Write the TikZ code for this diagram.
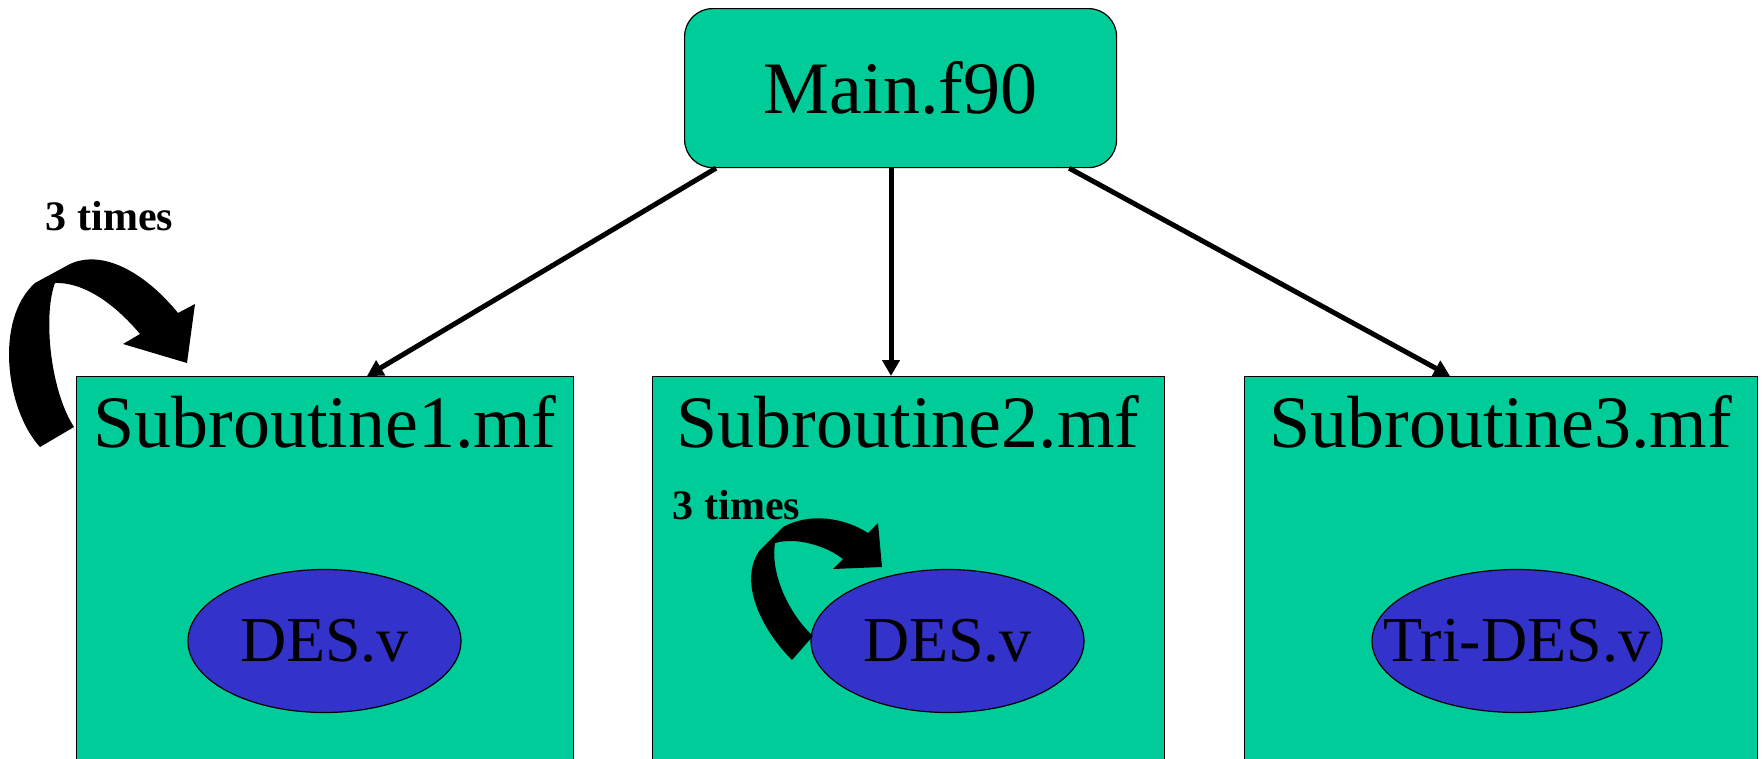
\documentclass[tikz,border=0pt]{standalone}
\usepackage{fontspec}
\setmainfont{Liberation Serif}
\usetikzlibrary{shapes.geometric,arrows.meta,calc}
\definecolor{boxgreen}{RGB}{0,204,153}
\definecolor{ellblue}{RGB}{51,51,204}
\tikzset{
  subbox/.style={draw=black, line width=1.2pt, fill=boxgreen, rectangle, minimum width=497pt, minimum height=420pt, anchor=north west, inner sep=0pt},
  mainbox/.style={draw=black, line width=1.2pt, fill=boxgreen, rectangle, rounded corners=28pt, minimum width=432pt, minimum height=159pt, anchor=north west, inner sep=0pt, font=\fontsize{74}{80}\selectfont},
  subtitle/.style={anchor=base, inner sep=0pt, font=\fontsize{74}{80}\selectfont},
  modell/.style={draw=black, line width=1.2pt, fill=ellblue, ellipse, inner sep=0pt, minimum height=143pt, font=\fontsize{64}{70}\selectfont},
  timeslabel/.style={anchor=base, inner sep=0pt, font=\fontsize{42}{46}\selectfont\bfseries},
  conn/.style={line width=5pt, -{Triangle[length=16pt,width=17pt]}},
  loop/.style={fill=black, draw=none}
}
\begin{document}
\begin{tikzpicture}[x=1pt,y=-1pt]
\useasboundingbox (0,0) rectangle (1762,758);
\clip (0,0) rectangle (1762,758);
% subroutine boxes
\node[subbox] (s1) at (76,376) {};
\node[subbox, minimum width=512pt] (s2) at (652,376) {};
\node[subbox, minimum width=513pt] (s3) at (1244,376) {};
\node[subtitle] (t1) at (324.5,447) {Subroutine1.mf};
\node[subtitle] (t2) at (908,447) {Subroutine2.mf};
\node[subtitle] (t3) at (1500.5,447) {Subroutine3.mf};
% ellipses
\node[modell, minimum width=273pt] (e1) at (324.5,641) {DES.v};
\node[modell, minimum width=273pt] (e2) at (947.5,641) {DES.v};
\node[modell, minimum width=290pt, inner xsep=-32pt] (e3) at (1517,641) {Tri-DES.v};
% main
\node[mainbox] (main) at (684,8) {Main.f90};
% connectors
\draw[conn] ($(main.south west)+(32,0)$) -- ($(s1.north west)+(291,0)$);
\draw[conn] ($(main.south west)+(207,0)$) -- ($(s2.north west)+(239,0)$);
\draw[conn] ($(main.south east)+(-48,0)$) -- ($(s3.north west)+(206,0)$);
% loop labels
\node[timeslabel] (l1) at (109.5,230) {3 times};
\node[timeslabel] (l2) at (736.5,519) {3 times};
% curved block arrows
\path[loop] (40,447) .. controls (6,410) and (-6,320) .. (35,283) -- (70,264)
  .. controls (105,248) and (148,276) .. (178,313) -- (195,304) -- (187,363)
  -- (123,344) -- (140,334) .. controls (120,310) and (88,282) .. (55,283)
  .. controls (43,315) and (50,390) .. (74,427) -- cycle;
\path[loop] (792,660) .. controls (760,628) and (738,580) .. (760,550) -- (783,527)
  .. controls (810,512) and (845,518) .. (868,533) -- (878,523) -- (882,567)
  -- (833,569) -- (843,559) .. controls (825,545) and (795,537) .. (775,543)
  .. controls (770,575) and (790,615) .. (813,636) -- cycle;
\end{tikzpicture}
\end{document}
